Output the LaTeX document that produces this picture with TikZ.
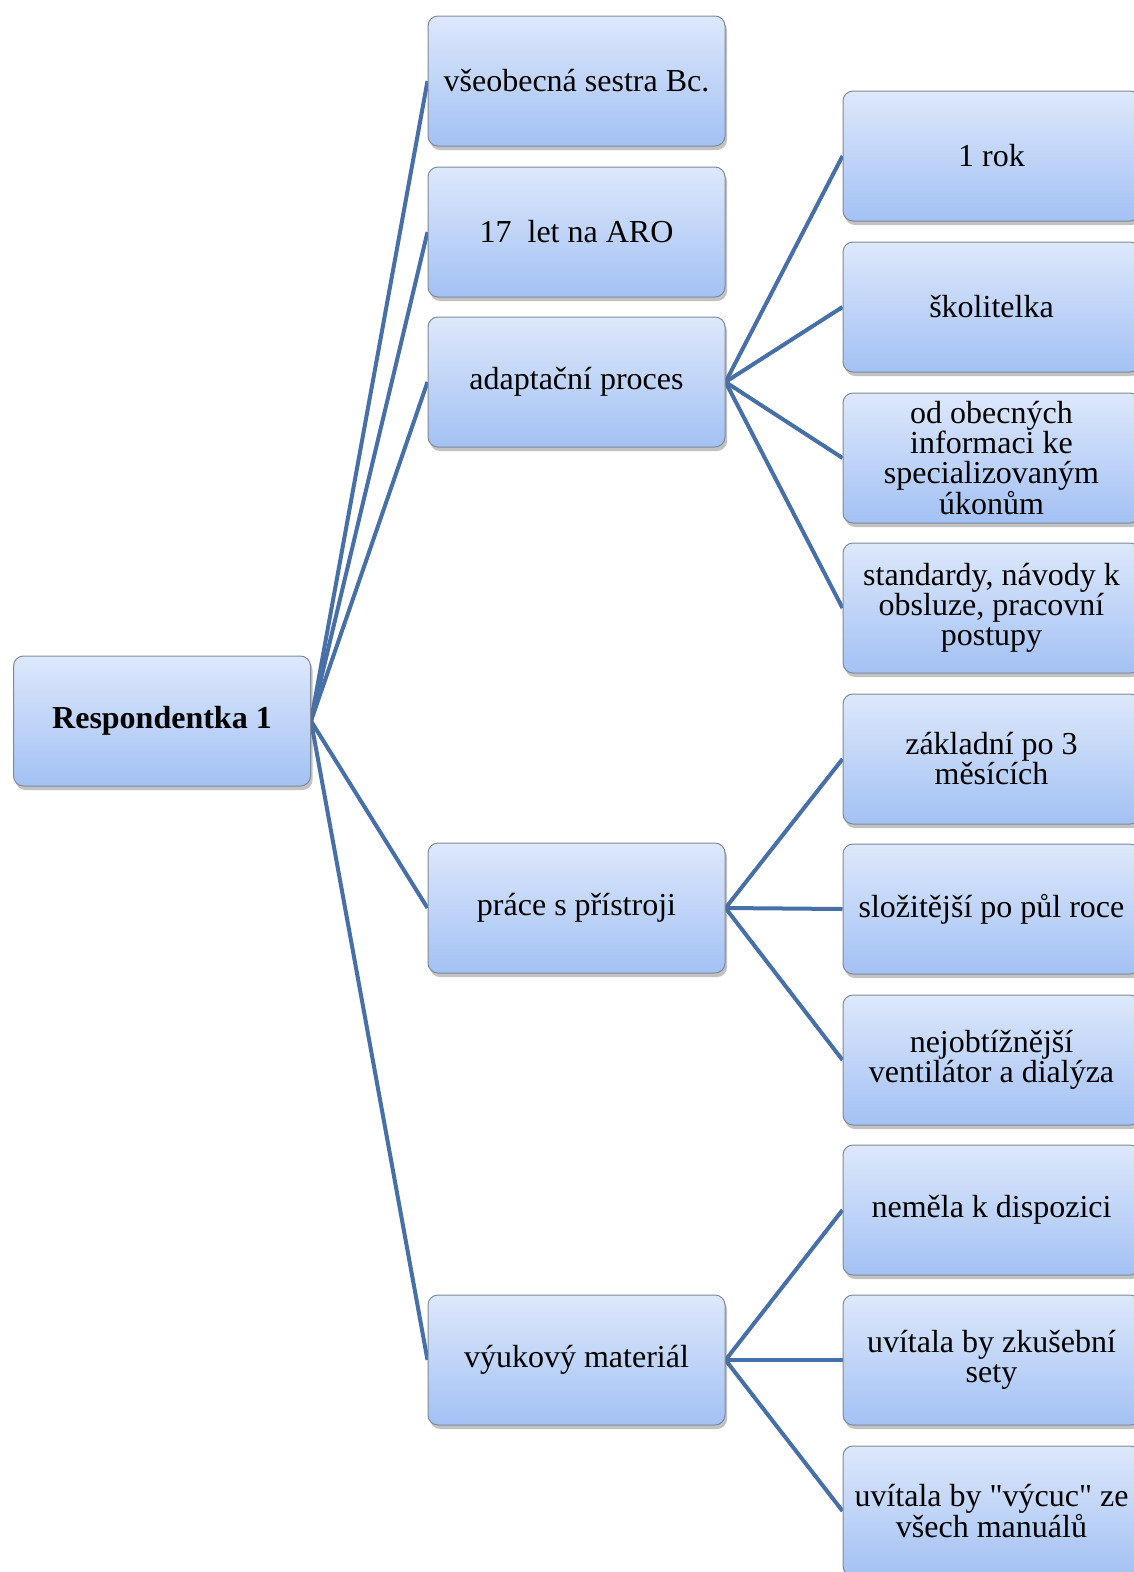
\documentclass[tikz,border=0pt]{standalone}
\usepackage{fontspec}
\setmainfont{Liberation Serif}
\newfontfamily\qfont{Liberation Serif}[Ligatures=ResetAll]
\newcommand{\sq}{{\qfont"}}
\usetikzlibrary{shadows,backgrounds}
\definecolor{topc}{HTML}{DDE8FB}
\definecolor{botc}{HTML}{A3C1F4}
\definecolor{edgec}{HTML}{7F8A99}
\definecolor{linec}{HTML}{4870A8}
\tikzset{
  box/.style={rectangle, rounded corners=10pt, draw=edgec, line width=1pt,
    top color=topc, bottom color=botc, minimum width=297pt, minimum height=130pt,
    align=center, inner sep=2pt, font=\fontsize{32}{30}\selectfont,
    drop shadow={shadow xshift=2pt, shadow yshift=-4pt, opacity=0.4, fill=black!60}},
  conn/.style={draw=linec, line width=4pt}
}
\begin{document}
\begin{tikzpicture}[x=1pt,y=-1pt]
\useasboundingbox (0,0) rectangle (1134,1572);
\clip (0,0) rectangle (1134,1572);
% nodes
\node[box] (root) at (162,721) {\textbf{Respondentka 1}};
\node[box] (a1) at (576.5,81) {všeobecná sestra Bc.};
\node[box] (a2) at (576.5,232) {17\ \ let na ARO};
\node[box] (a3) at (576.5,382) {adaptační proces};
\node[box] (a4) at (576.5,908) {práce s přístroji};
\node[box] (a5) at (576.5,1360) {výukový materiál};
\node[box] (b1) at (991.5,156) {1 rok};
\node[box] (b2) at (991.5,307) {školitelka};
\node[box] (b3) at (991.5,458) {od obecných\\informaci ke\\specializovaným\\úkonům};
\node[box] (b4) at (991.5,608) {standardy, návody k\\obsluze, pracovní\\postupy};
\node[box] (b5) at (991.5,759) {základní po 3\\měsících};
\node[box] (b6) at (991.5,909) {složitější po půl roce};
\node[box] (b7) at (991.5,1060) {nejobtížnější\\ventilátor a dialýza};
\node[box] (b8) at (991.5,1210) {neměla k dispozici};
\node[box] (b9) at (991.5,1360) {uvítala by zkušební\\sety};
\node[box] (b10) at (991.5,1511) {uvítala by \sq výcuc\sq{} ze\\všech manuálů};
% connectors
\begin{scope}[on background layer]
\foreach \c in {a1,a2,a3,a4,a5} \draw[conn] (root.east) -- (\c.west);
\foreach \c in {b1,b2,b3,b4} \draw[conn] (a3.east) -- (\c.west);
\foreach \c in {b5,b6,b7} \draw[conn] (a4.east) -- (\c.west);
\foreach \c in {b8,b9,b10} \draw[conn] (a5.east) -- (\c.west);
\end{scope}
\end{tikzpicture}
\end{document}
